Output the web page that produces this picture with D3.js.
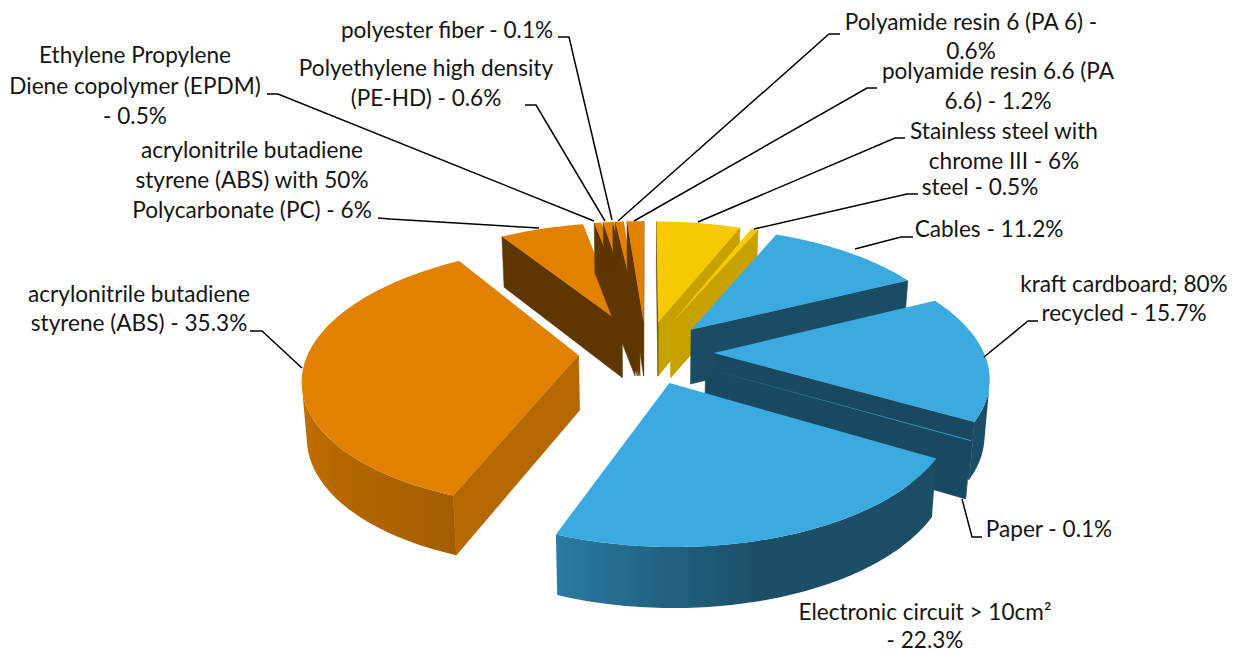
<!DOCTYPE html>
<html>
<head>
<meta charset="utf-8">
<script src="https://cdnjs.cloudflare.com/ajax/libs/d3/7.8.5/d3.min.js"></script>
<style>
html,body{margin:0;padding:0;background:#fff}
text{font-family:Lato,"Open Sans",sans-serif;font-size:22.6px;fill:#141414;text-anchor:middle}
</style>
</head>
<body>
<script>
// slices clockwise from 12 o'clock
const materials = ['Stainless steel','steel','Cables','kraft cardboard','Paper','Electronic circuit','ABS','ABS with PC','EPDM','PE-HD','polyester fiber','PA 6','PA 6.6']
const shares = [6,0.5,11.2,15.7,0.1,22.3,35.3,6,0.5,0.6,0.1,0.6,1.2]
const colorGroup = ['yellow','yellow','blue','blue','blue','blue','orange','orange','orange','orange','orange','orange','orange']
const labelLines = [
  ['Stainless steel with','chrome III - 6%'],
  ['steel - 0.5%'],
  ['Cables - 11.2%'],
  ['kraft cardboard; 80%','recycled - 15.7%'],
  ['Paper - 0.1%'],
  ['Electronic circuit > 10cm²','- 22.3%'],
  ['acrylonitrile butadiene','styrene (ABS) - 35.3%'],
  ['acrylonitrile butadiene','styrene (ABS) with 50%','Polycarbonate (PC) - 6%'],
  ['Ethylene Propylene','Diene copolymer (EPDM)','- 0.5%'],
  ['Polyethylene high density','(PE-HD) - 0.6%'],
  ['polyester fiber - 0.1%'],
  ['Polyamide resin 6 (PA 6) -','0.6%'],
  ['polyamide resin 6.6 (PA','6.6) - 1.2%']
]

// label layout: centre x, first baseline, line gap (same order as above)
const labelAt = [
  [1004,139,30],[980,195,0],[989,237,0],[1124,292,29],[1049,537,0],[925,620,27.5],
  [139,302,29],[252,158,30],[135,63,30.5],[426,76,30],[447,38,0],[971,30,29],[998,79,29.5]
]
const leaders = [
  [[905,138],[895,138],[698,222]],
  [[918,194],[907,194],[754,229]],
  [[913,237],[901,237],[855,249]],
  [[1038,321],[1028,321],[984,357]],
  [[982,537],[972,537],[962,499]],
  null,
  [[250,331],[262,331],[302,368]],
  [[378,218],[390,219],[539,228]],
  [[267,94],[278,94],[594,221]],
  [[525,105],[536,105],[605,221]],
  [[558,37],[569,37],[612,220]],
  [[840,34],[829,34],[618,221]],
  [[877,88],[867,88],[634,221]]
]

const topColor = {yellow:'#f7c900',blue:'#3aaae0',orange:'#e28100'}

const width = 1235
const height = 652
const svg = d3.select('body').append('svg')
  .attr('width',width)
  .attr('height',height)
const defs = svg.append('defs')

// 3d view of the pie, fitted to the picture
const view = {cx:646,cy:352,rx:270,ry:126,persp:0.163,explode:0.25,depth:55,depthPersp:0.08,shrink:0.985}

function project(u,v){
  const s = 1 - view.persp*v
  return [view.cx + view.rx*u/s, view.cy + view.ry*v/s]
}
function drop(u,v){
  const p = project(u,v)
  return [view.cx + (p[0]-view.cx)*view.shrink, p[1] + view.depth/(1 - view.depthPersp*v)]
}

const line = d3.line()
const toColor = (name,k) => d3.interpolateRgb('#000',topColor[name])(k)

// how dark a wall is, from the direction it looks at (degrees clockwise from back)
const outerShade = d3.scaleLinear().domain([80,165,185,200,250,290]).range([.45,.46,.6,.72,.86,.9]).clamp(true)
const radialShade = d3.scaleLinear().domain([100,115,150,240]).range([.8,.8,.45,.42]).clamp(true)

const arcs = d3.pie().value(d => d).sort(null).startAngle(0).endAngle(2*Math.PI)(shares)
const deg = r => r*180/Math.PI

function buildSlice(arc,i){
  const mid = (arc.startAngle + arc.endAngle)/2
  const ou = view.explode*Math.sin(mid)
  const ov = -view.explode*Math.cos(mid)
  const steps = Math.max(1,Math.ceil(deg(arc.endAngle-arc.startAngle)))
  const rim = d3.range(steps+1).map(k => {
    const a = arc.startAngle + (arc.endAngle-arc.startAngle)*k/steps
    return {a:a,u:ou+Math.sin(a),v:ov-Math.cos(a)}
  })
  return {i:i,apex:{u:ou,v:ov},rim:rim,group:colorGroup[i],arc:arc}
}

function frontFacing(a,b,c){
  return (b[0]-a[0])*(c[1]-b[1]) - (b[1]-a[1])*(c[0]-b[0]) < 0
}

function quad(g,p,q,color){
  const a = project(p.u,p.v), b = project(q.u,q.v), c = drop(q.u,q.v), d = drop(p.u,p.v)
  if(!frontFacing(a,b,c)) return
  g.append('path')
    .attr('d',line([a,b,c,d])+'Z')
    .attr('fill',color)
    .attr('stroke',color)
    .attr('stroke-width',0.6)
}

// curved wall as one path with a sideways gradient
function outerWall(g,s){
  const seen = s.rim.filter((p,k) => {
    const q = s.rim[Math.min(k+1,s.rim.length-1)], o = s.rim[Math.max(k-1,0)]
    const from = k < s.rim.length-1 ? p : o, to = k < s.rim.length-1 ? q : p
    return frontFacing(project(from.u,from.v),project(to.u,to.v),drop(to.u,to.v))
  })
  if(seen.length < 2) return
  const xs = seen.map(p => project(p.u,p.v)[0])
  const x = d3.scaleLinear().domain(d3.extent(xs)).range([0,1])
  const id = 'wall' + s.i
  const grad = defs.append('linearGradient').attr('id',id)
    .attr('gradientUnits','userSpaceOnUse')
    .attr('x1',d3.min(xs)).attr('x2',d3.max(xs)).attr('y1',0).attr('y2',0)
  grad.selectAll('stop')
    .data(seen.slice().sort((a,b) => project(a.u,a.v)[0]-project(b.u,b.v)[0]))
    .enter().append('stop')
      .attr('offset',d => x(project(d.u,d.v)[0]))
      .attr('stop-color',d => toColor(s.group,outerShade(deg(d.a))))
  const pts = seen.map(p => project(p.u,p.v)).concat(seen.slice().reverse().map(p => drop(p.u,p.v)))
  g.append('path').attr('d',line(pts)+'Z').attr('fill','url(#'+id+')')
}

// back slices first: left part of the top, then right side round to ABS
const order = d3.range(7,13).concat(d3.range(0,7))

const pieG = svg.append('g').attr('class','pie')
order.forEach(i => {
  const s = buildSlice(arcs[i],i)
  const g = pieG.append('g').attr('class','slice').attr('data-name',materials[i])
  const first = s.rim[0], last = s.rim[s.rim.length-1]
  quad(g,last,s.apex,toColor(s.group,radialShade(deg(last.a)+90)))
  quad(g,s.apex,first,toColor(s.group,radialShade((deg(first.a)-90+360)%360)))
  outerWall(g,s)
  const outline = [s.apex].concat(s.rim).map(p => project(p.u,p.v))
  g.append('path')
    .attr('d',line(outline)+'Z')
    .attr('fill',topColor[s.group])
})

// leader lines
svg.append('g').attr('class','leaders')
  .selectAll('path')
  .data(leaders.filter(d => d))
  .enter().append('path')
    .attr('d',d => line(d))
    .attr('fill','none')
    .attr('stroke','#000')
    .attr('stroke-width',1.5)

// labels
const labels = svg.append('g').attr('class','labels')
  .selectAll('text')
  .data(labelLines)
  .enter().append('text')

labels.selectAll('tspan')
  .data((d,i) => d.map((t,k) => ({t:t,k:k,at:labelAt[i]})))
  .enter().append('tspan')
    .attr('x',d => d.at[0])
    .attr('y',d => d.at[1] + d.k*d.at[2])
    .text(d => d.t)
</script>
</body>
</html>
